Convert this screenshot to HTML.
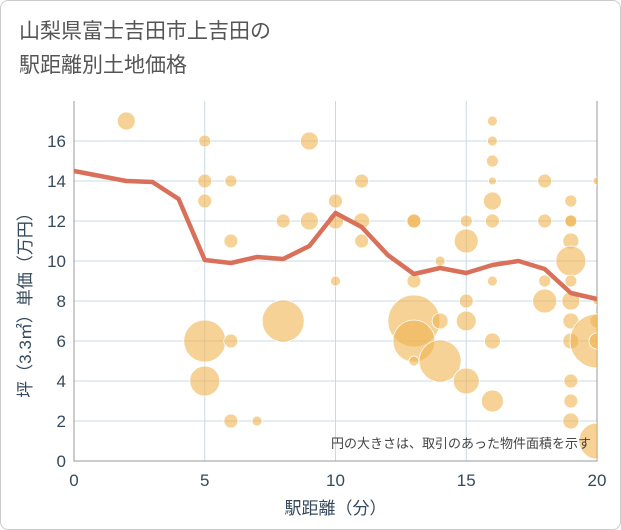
<!DOCTYPE html>
<html><head><meta charset="utf-8"><style>
body{margin:0;background:#fff;font-family:"Liberation Sans","Noto Sans CJK JP",sans-serif}
#wrap{position:relative;width:619px;height:528px;border:1px solid #ccc;border-radius:8px;overflow:hidden}
.title{position:absolute;left:18px;top:14px;font-size:21px;line-height:34px;color:#555}
</style></head><body>
<div id="wrap">
<div class="title">山梨県富士吉田市上吉田の<br>駅距離別土地価格</div>
<svg id="chart" width="621" height="530" style="position:absolute;left:0;top:0"><defs><clipPath id="pc"><rect x="73" y="100" width="523" height="360"/></clipPath></defs></svg>
</div>
<script>
const xTicks=[0,5,10,15,20];
const yTicks=[0,2,4,6,8,10,12,14,16];
const bubbleX=[2,5,5,5,6,6,8,9,9,10,10,10,5,6,5,6,7,8,11,11,11,13,13,13,13,13,13,14,14,14,15,15,15,15,15,16,16,16,16,16,16,16,16,16,18,18,18,18,19,19,19,19,19,19,19,19,19,19,19,19,20,20,20,20,20,20];
const bubbleY=[17,16,14,13,14,11,12,12,16,13,12,9,6,6,4,2,2,7,14,12,11,12,12,9,7,6,5,10,7,5,12,11,8,7,4,17,16,15,14,13,12,9,6,3,14,12,9,8,13,12,12,11,10,9,8,7,6,4,3,2,14,8,7,6,1,6];
const bubbleR=[9,6,7,7,6,7,7,9,9,7,8,5,21,7,15,7,5,21,7,8,7,7,7,7,26,21,5,5,8,21,6,12,7,10,13,5,5,6,4,9,7,5,8,11,7,7,6,12,6,6,6,8,15,6,9,8,8,7,7,8,4,4,7,27,18,8];
const lineX=[0,1,2,3,4,5,6,7,8,9,10,11,12,13,14,15,16,17,18,19,20];
const lineY=[14.5,14.25,14,13.95,13.1,10.05,9.9,10.2,10.1,10.75,12.4,11.7,10.3,9.35,9.65,9.4,9.8,10,9.6,8.4,8.1];
const L=73,R=596,T=100,B=460;
const sx=v=>L+(v/20)*(R-L), sy=v=>B-(v/18)*(B-T);
const svg=document.getElementById('chart');const NS='http://www.w3.org/2000/svg';
const TC='#34495e';
function mk(t,a,p){const e=document.createElementNS(NS,t);for(const k in a)e.setAttribute(k,a[k]);(p||svg).appendChild(e);return e;}
xTicks.forEach(v=>{const e=mk('line',{x1:sx(v),x2:sx(v),y1:T,y2:B,stroke:'#c8d8e8','stroke-width':1});


const t=mk('text',{x:sx(v),y:B+25,'text-anchor':'middle','font-size':17,fill:TC});t.textContent=v;

});
yTicks.forEach(v=>{const e=mk('line',{x1:L,x2:R,y1:sy(v),y2:sy(v),stroke:'#c8d8e8','stroke-width':1});


const t=mk('text',{x:L-8,y:sy(v)+6,'text-anchor':'end','font-size':17,fill:TC});t.textContent=v;

});
const ax=mk('path',{d:`M${L} ${T}V${B}H${R}V${T}`,fill:'none',stroke:'#999','stroke-width':1});


const g=mk('g',{'clip-path':'url(#pc)'});


bubbleX.forEach((x,i)=>{const c=mk('circle',{cx:sx(x),cy:sy(bubbleY[i]),r:bubbleR[i],fill:'rgba(240,180,80,0.6)',stroke:'#fff','stroke-width':0.8},g);

});
const pl=mk('polyline',{points:lineX.map((x,i)=>sx(x)+','+sy(lineY[i])).join(' '),fill:'none',stroke:'#d9705a','stroke-width':4.5,'stroke-linejoin':'round'});


const note=mk('text',{x:590,y:447,'text-anchor':'end','font-size':13,fill:'#444'});note.textContent='円の大きさは、取引のあった物件面積を示す';


const xt=mk('text',{x:(L+R)/2,y:513,'text-anchor':'middle','font-size':17,fill:TC});xt.textContent='駅距離（分）';


const yt=mk('text',{x:0,y:0,'text-anchor':'middle','font-size':17,fill:TC,transform:`translate(30,${(T+B)/2+20}) rotate(-90)`});yt.textContent='坪（3.3㎡）単価（万円）';


</script>
</body></html>
